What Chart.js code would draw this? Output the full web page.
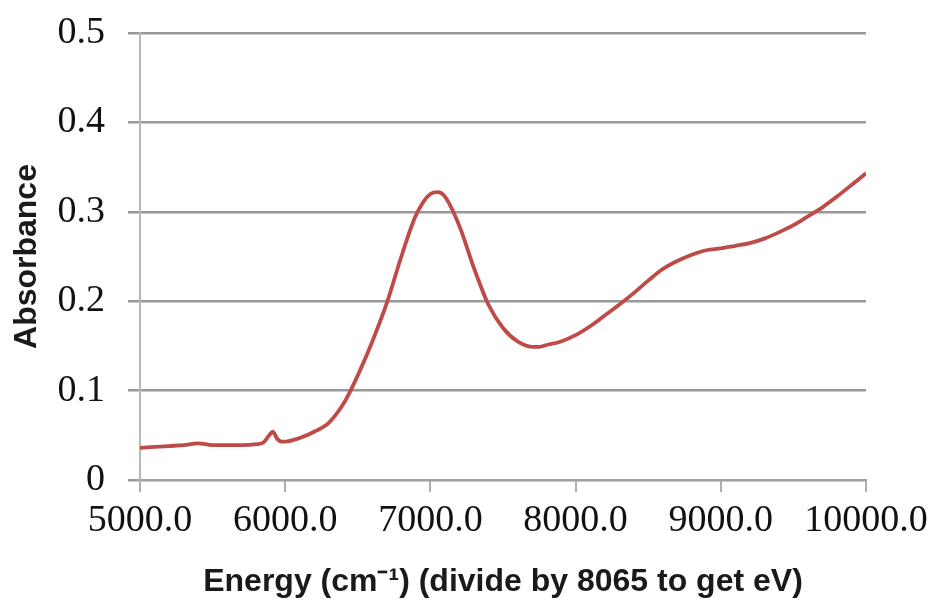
<!DOCTYPE html>
<html>
<head>
<meta charset="utf-8">
<script src="https://cdn.jsdelivr.net/npm/chart.js@4"></script>
<style>
html,body{margin:0;padding:0;background:#fff;}
#wrap{width:933px;height:607px;}
</style>
</head>
<body>
<div id="wrap"><canvas id="c" width="933" height="607"></canvas></div>
<script>
// Energy (cm^-1)
const energy = [5000,5100,5200,5300,5400,5500,5600,5700,5800,5850,5890,5915,5945,5975,6000,6100,6200,6300,6400,6450,6500,6600,6700,6800,6900,7000,7050,7100,7200,7300,7400,7500,7600,7700,7750,7800,7900,8000,8100,8200,8300,8400,8500,8600,8700,8800,8900,9000,9100,9200,9300,9400,9500,9600,9700,9800,9900,10000];
// Absorbance
const absorbance = [0.036,0.037,0.038,0.039,0.041,0.039,0.039,0.039,0.040,0.042,0.050,0.054,0.046,0.043,0.043,0.047,0.054,0.064,0.085,0.100,0.117,0.155,0.198,0.250,0.296,0.320,0.322,0.317,0.284,0.237,0.196,0.170,0.155,0.149,0.149,0.151,0.155,0.162,0.172,0.184,0.196,0.209,0.223,0.236,0.245,0.252,0.257,0.259,0.262,0.265,0.270,0.277,0.285,0.295,0.305,0.317,0.330,0.343];
const xTickValues = [5000,6000,7000,8000,9000,10000];
const xTickLabels = ['5000.0','6000.0','7000.0','8000.0','9000.0','10000.0'];
const yTickValues = [0,0.1,0.2,0.3,0.4,0.5];
const yTickLabels = ['0','0.1','0.2','0.3','0.4','0.5'];
const xTitle = 'Energy (cm\u207B\u00B9) (divide by 8065 to get eV)';
const yTitle = 'Absorbance';

const points = energy.map((x,i)=>({x:x,y:absorbance[i]}));

new Chart(document.getElementById('c'), {
  type: 'line',
  data: {
    datasets: [{
      data: points,
      borderColor: '#be4b48',
      borderWidth: 3.8,
      pointRadius: 0,
      fill: false,
      cubicInterpolationMode: 'monotone'
    }]
  },
  options: {
    responsive: false,
    animation: false,
    layout: { padding: { left: 0, top: 33, right: 67, bottom: 0 } },
    plugins: { legend: { display: false }, tooltip: { enabled: false } },
    scales: {
      x: {
        type: 'linear',
        min: 5000, max: 10000,
        afterBuildTicks: s => { s.ticks = xTickValues.map(v => ({value: v})); },
        afterFit: s => { s.height = 127; s.paddingLeft = 0; s.paddingRight = 0; },
        grid: { drawOnChartArea: false, drawTicks: true, tickLength: 12, color: '#b0b0b0', lineWidth: 2 },
        border: { display: true, color: '#a0a0a0', width: 2 },
        ticks: {
          autoSkip: false, maxRotation: 0, minRotation: 0, padding: 6,
          color: '#111',
          font: { family: '"Liberation Serif"', size: 38 },
          callback: (v, i) => xTickLabels[i]
        },
        title: {
          display: true, text: xTitle, color: '#1a1a1a',
          font: { family: '"Liberation Sans"', size: 32, weight: 'bold' },
          padding: { top: 4, bottom: 6 }
        }
      },
      y: {
        type: 'linear',
        min: 0, max: 0.5,
        afterBuildTicks: s => { s.ticks = yTickValues.map(v => ({value: v})); },
        afterFit: s => { s.width = 140; s.paddingTop = 0; s.paddingBottom = 0; },
        grid: { color: '#999999', lineWidth: 2.5, tickLength: 12, drawTicks: true },
        border: { display: true, color: '#b8b8b8', width: 2 },
        ticks: {
          padding: 23,
          color: '#111',
          font: { family: '"Liberation Serif"', size: 38 },
          callback: (v, i) => yTickLabels[i]
        },
        title: {
          display: true, text: yTitle, color: '#1a1a1a',
          font: { family: '"Liberation Sans"', size: 32, weight: 'bold' },
          padding: { top: 8, bottom: 4 }
        }
      }
    }
  }
});
</script>
</body>
</html>
